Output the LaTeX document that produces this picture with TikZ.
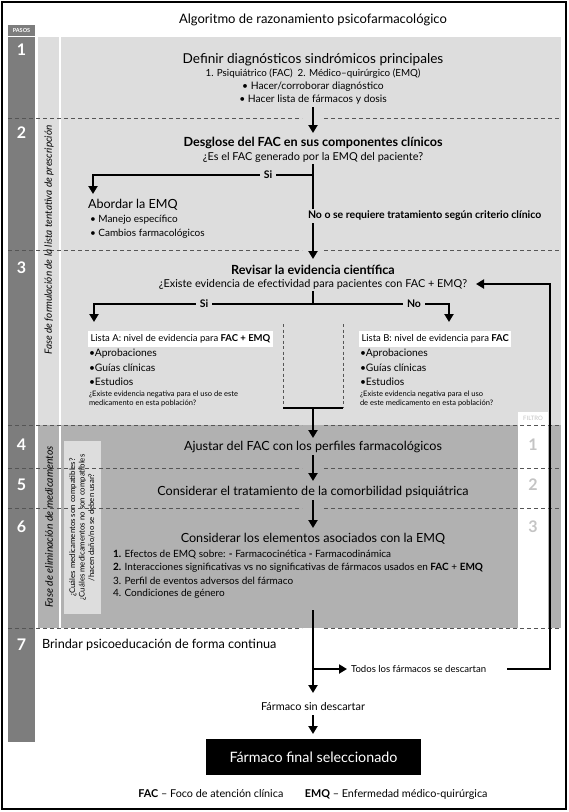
\documentclass[tikz,border=0pt]{standalone}
\usepackage{fontspec}
\setmainfont{Lato}
\usetikzlibrary{arrows.meta}
\definecolor{dk}{HTML}{7D7D7D}
\definecolor{lg}{HTML}{DDDDDD}
\definecolor{mg}{HTML}{B1B1B1}
\definecolor{dsh}{HTML}{555555}
\definecolor{fltxt}{HTML}{C4C4C4}
\begin{document}
\begin{tikzpicture}[x=1pt,y=-1pt,
  every node/.style={inner sep=0pt,outer sep=0pt},
  arr/.style={line width=2.5pt,-{Triangle[length=8pt,width=9pt]}},
  ln/.style={line width=2.5pt},
  sepl/.style={draw=dsh,line width=0.7pt,dash pattern=on 4pt off 3pt},
  vdash/.style={draw=dsh,line width=0.6pt,dash pattern=on 3pt off 2.5pt},
  head/.style={font=\fontsize{12.6}{14}\selectfont},
  headb/.style={font=\bfseries\fontsize{12.6}{14}\selectfont},
  sub/.style={font=\fontsize{10.9}{12}\selectfont},
  subs/.style={font=\fontsize{10.3}{12}\selectfont},
  num/.style={text=white,font=\bfseries\fontsize{16}{16}\selectfont},
  fnum/.style={text=fltxt,font=\bfseries\fontsize{16}{16}\selectfont},
  lbl/.style={fill=lg,inner xsep=4pt,inner ysep=2pt,font=\bfseries\fontsize{10.5}{12}\selectfont},
  phase/.style={rotate=90,font=\itshape\fontsize{10}{11}\selectfont},
  blt/.style={anchor=west,font=\fontsize{10.3}{12}\selectfont},
  tinyt/.style={anchor=west,font=\fontsize{7.5}{9}\selectfont,align=left},
  listbox/.style={fill=white,anchor=west,inner xsep=2.5pt,inner ysep=3.5pt,font=\fontsize{9.5}{10}\selectfont},
  item/.style={anchor=west,font=\fontsize{10}{12}\selectfont},
]
\useasboundingbox (0,0) rectangle (569,812);
\fill[white] (0,0) rectangle (569,812);
% backgrounds
\fill[lg] (38,37) rectangle (561,425);
\fill[mg] (38,425) rectangle (561,628);
\fill[white] (518,412) rectangle (548,628);
\fill[dk] (8,37) rectangle (35,742);
\draw[white,line width=1.2pt] (60,37) -- (60,628);
\node[fill=lg,minimum width=173,minimum height=37,rotate=90,font=\fontsize{7.8}{9.5}\selectfont,align=center] (qbox) at (82,527.5) {¿Cuáles medicamentos son compatibles?\\¿Cuáles medicamentos no son compatibles\\/hacen daño/no se deben usar?};
% separators
\foreach \yy in {118,250,425,468,508,628}{
  \draw[sepl] (8,\yy) -- (302,\yy);
  \draw[sepl] (324,\yy) -- (561,\yy);
}
% frame
\draw[line width=2pt] (2,2) rectangle (566,809);
% title and steps column
\node[font=\fontsize{13}{15}\selectfont] (title) at (313,20) {Algoritmo de razonamiento psicofarmacológico};
\node[fill=dk,text=white,font=\bfseries\fontsize{5.5}{6}\selectfont,minimum width=27,minimum height=11] (pasos) at (21.5,30.5) {PASOS};
\node[num] (n1) at (21.5,50) {1};
\node[num] (n2) at (21.5,133) {2};
\node[num] (n3) at (21.5,268) {3};
\node[num] (n4) at (21.5,445) {4};
\node[num] (n5) at (21.5,485) {5};
\node[num] (n6) at (21.5,527) {6};
\node[num] (n7) at (21.5,645) {7};
\node[font=\fontsize{6}{7}\selectfont,text=fltxt] (filtro) at (533,418) {FILTRO};
\node[fnum] (f1) at (533,445) {1};
\node[fnum] (f2) at (533,485) {2};
\node[fnum] (f3) at (533,527) {3};
\node[phase] (ph1) at (49,240) {Fase de formulación de la lista tentativa de prescripción};
\node[phase,font=\itshape\fontsize{10.4}{11}\selectfont] (ph2) at (49,527) {Fase de eliminación de medicamentos};
% step 1
\node[font=\fontsize{13.6}{15}\selectfont] (s1) at (313,60) {Definir diagnósticos sindrómicos principales};
\node[font=\fontsize{9.8}{12}\selectfont] (s1a) at (313,74) {1. Psiquiátrico (FAC)\ \ 2. Médico–quirúrgico (EMQ)};
\node[subs] (s1b) at (313,87) {• Hacer/corroborar diagnóstico};
\node[subs] (s1c) at (313,99.5) {• Hacer lista de fármacos y dosis};
\coordinate (a1s) at (313,107);
\coordinate (a1e) at (313,133);
\draw[arr] (a1s) -- (a1e);
% step 2
\node[headb] (s2) at (313,143) {Desglose del FAC en sus componentes clínicos};
\node[sub] (s2q) at (313,157) {¿Es el FAC generado por la EMQ del paciente?};
\coordinate (c2t) at (313,164);
\coordinate (c2m) at (313,175);
\coordinate (c2l) at (93,175);
\coordinate (c2la) at (93,194);
\coordinate (c2b) at (313,259);
\draw[arr] (c2m) -- (c2l) -- (c2la);
\draw[arr] (c2t) -- (c2b);
\node[lbl] (si1) at (268,175) {Si};
\node[lbl,anchor=west,inner xsep=1pt] (no1) at (307,216) {No o se requiere tratamiento según criterio clínico};
\node[head,anchor=west] (ab) at (88,205) {Abordar la EMQ};
\node[item] (ab1) at (90,220) {• Manejo específico};
\node[item] (ab2) at (90,234) {• Cambios farmacológicos};
% step 3
\node[headb] (s3) at (313,270) {Revisar la evidencia científica};
\node[sub] (s3q) at (313,284) {¿Existe evidencia de efectividad para pacientes con FAC + EMQ?};
\coordinate (c3t) at (313,291);
\coordinate (c3m) at (313,304);
\coordinate (c3l) at (94,304);
\coordinate (c3la) at (94,322);
\coordinate (c3r) at (449,304);
\coordinate (c3ra) at (449,322);
\draw[ln] (c3t) -- (c3m);
\draw[arr] (c3m) -- (c3l) -- (c3la);
\draw[arr] (c3m) -- (c3r) -- (c3ra);
\node[lbl] (si2) at (204,304) {Si};
\node[lbl] (no2) at (414,304) {No};
\node[listbox] (la) at (88,339) {Lista A: nivel de evidencia para \textbf{FAC + EMQ}};
\node[blt] (la1) at (89,354) {•Aprobaciones};
\node[blt] (la2) at (89,368) {•Guías clínicas};
\node[blt] (la3) at (89,382) {•Estudios};
\node[tinyt] (la4) at (89,399) {¿Existe evidencia negativa para el uso de este\\medicamento en esta población?};
\node[listbox] (lb) at (359,339) {Lista B: nivel de evidencia para \textbf{FAC}};
\node[blt] (lb1) at (360,354) {•Aprobaciones};
\node[blt] (lb2) at (360,368) {•Guías clínicas};
\node[blt] (lb3) at (360,382) {•Estudios};
\node[tinyt] (lb4) at (360,399) {¿Existe evidencia negativa para el uso\\de este medicamento en esta población?};
\coordinate (dl1) at (283,324);
\coordinate (dl2) at (283,408);
\coordinate (dr1) at (343,324);
\coordinate (dr2) at (343,408);
\draw[vdash] (dl1) -- (dl2);
\draw[vdash] (dr1) -- (dr2);
\coordinate (bm) at (313,408);
\coordinate (a3e) at (313,438);
\draw[ln] (dl2) -- (dr2);
\draw[arr] (bm) -- (a3e);
% steps 4-6
\node[head] (s4) at (313,447) {Ajustar del FAC con los perfiles farmacológicos};
\coordinate (a4s) at (313,455);
\coordinate (a4e) at (313,481);
\draw[arr] (a4s) -- (a4e);
\node[head] (s5) at (313,492) {Considerar el tratamiento de la comorbilidad psiquiátrica};
\coordinate (a5s) at (313,500);
\coordinate (a5e) at (313,528);
\draw[arr] (a5s) -- (a5e);
\node[head] (s6) at (313,539) {Considerar los elementos asociados con la EMQ};
\node[item] (i1) at (113,555) {\textbf{1.} Efectos de EMQ sobre: \textbf{-} Farmacocinética \textbf{-} Farmacodinámica};
\node[item] (i2) at (113,568) {\textbf{2.} Interacciones significativas vs no significativas de fármacos usados en \textbf{FAC} + \textbf{EMQ}};
\node[item] (i3) at (113,581) {3. Perfil de eventos adversos del fármaco};
\node[item] (i4) at (113,594) {4. Condiciones de género};
% step 7
\node[anchor=west,font=\fontsize{12.7}{14}\selectfont] (s7) at (42,645) {Brindar psicoeducación de forma continua};
\coordinate (a6s) at (313,610);
\coordinate (a6e) at (313,693);
\coordinate (br) at (313,669);
\coordinate (bra) at (347,669);
\draw[arr] (a6s) -- (a6e);
\draw[arr] (br) -- (bra);
\node[anchor=west,font=\fontsize{9.6}{11}\selectfont] (todos) at (351,669) {Todos los fármacos se descartan};
\coordinate (fb1) at (507,669);
\coordinate (fbB) at (550,669);
\coordinate (fbT) at (550,284);
\coordinate (fbA) at (476,284);
\draw[arr] (fb1) -- (fbB) -- (fbT) -- (fbA);
\node[font=\fontsize{10.9}{12}\selectfont] (sin) at (313,707) {Fármaco sin descartar};
\coordinate (a7s) at (313,715);
\coordinate (a7e) at (313,734);
\draw[arr] (a7s) -- (a7e);
\node[fill=black,text=white,minimum width=215,minimum height=36,font=\fontsize{14.3}{16}\selectfont] (final) at (313.5,757) {Fármaco final seleccionado};
\node[font=\fontsize{10.8}{12}\selectfont] (leg) at (313,794) {\textbf{FAC} – Foco de atención clínica\qquad\textbf{EMQ} – Enfermedad médico-quirúrgica};
\end{tikzpicture}
\end{document}
